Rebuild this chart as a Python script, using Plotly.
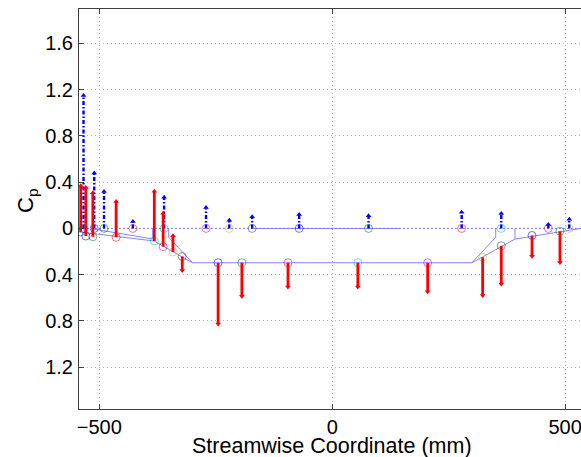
import plotly.graph_objects as go

# ---------------- data ----------------
# upper-surface taps (on y = 0 line): streamwise position (mm) and Cp arrow length
upper_x = [-534, -511, -490, -428, -361, -271, -221, -172, -71, 78, 278, 363, 464, 509]
upper_cp = [1.15, 0.48, 0.32, 0.06, 0.27, 0.18, 0.07, 0.10, 0.12, 0.11, 0.14, 0.13, 0.035, 0.08]

# lower-surface taps: position (mm), surface ordinate, Cp arrow length
lower_x = [-540, -529, -514, -464, -382, -363, -342, -322, -245, -194, -95, 55, 205, 323, 363, 429, 489]
lower_y = [-0.03, -0.066, -0.072, -0.077, -0.109, -0.158, -0.204, -0.243, -0.297, -0.297,
           -0.297, -0.297, -0.297, -0.25, -0.15, -0.061, -0.024]
lower_cp = [0.40, 0.42, 0.38, 0.31, 0.43, 0.29, 0.14, -0.12, -0.53, -0.29, -0.21, -0.21,
            -0.25, -0.33, -0.33, -0.18, -0.27]

# body outlines
upper_line_x = [-543.7, 534.2]
upper_line_y = [0.0, 0.0]
profile1_x = [-543.7, -382, -300, 300, 392.5, 534.2]
profile1_y = [-0.03, -0.109, -0.297, -0.297, -0.092, 0.0]
profile2_x = [-513, -385.4, -385.4, None, -351.1, -351.1, -300, None, 300, 351.1, 351.1, None, 392.5, 392.5]
profile2_y = [-0.005, -0.091, 0.0, None, 0.0, -0.077, -0.297, None, -0.297, -0.077, 0.0, None, -0.092, 0.0]

x_ticks = [-500, 0, 500]
y_ticks = [-1.2, -0.8, -0.4, 0, 0.4, 0.8, 1.2, 1.6]
y_ticktext = ["1.2", "0.8", "0.4", "0", "0.4", "0.8", "1.2", "1.6"]

x_title = "Streamwise Coordinate (mm)"
y_title = "C<sub>p</sub>"

# ---------------- styles ----------------
cycle = ["#0000ff", "#008000", "#ff0000", "#00bfbf", "#bf00bf", "#bfbf00", "#404040"]
FONT = "Liberation Sans, Arial, Helvetica, sans-serif"
PROFILE = "rgba(110,110,255,0.85)"

fig = go.Figure()

# outlines
fig.add_trace(go.Scatter(x=upper_line_x, y=upper_line_y, mode="lines",
                         line=dict(color=PROFILE, width=1, dash="2px,2px"), hoverinfo="skip"))
fig.add_trace(go.Scatter(x=[-170, 145], y=[0, 0], mode="lines",
                         line=dict(color=PROFILE, width=1), hoverinfo="skip"))
fig.add_trace(go.Scatter(x=profile1_x, y=profile1_y, mode="lines",
                         line=dict(color=PROFILE, width=1), hoverinfo="skip"))
fig.add_trace(go.Scatter(x=profile2_x, y=profile2_y, mode="lines",
                         line=dict(color=PROFILE, width=1), hoverinfo="skip"))

# tap circles
fig.add_trace(go.Scatter(x=upper_x, y=[0] * len(upper_x), mode="markers",
                         marker=dict(symbol="circle-open", size=8, opacity=0.55,
                                     color=[cycle[(i + 6) % 7] for i in range(len(upper_x))],
                                     line=dict(width=1)), hoverinfo="skip"))
fig.add_trace(go.Scatter(x=lower_x, y=lower_y, mode="markers",
                         marker=dict(symbol="circle-open", size=8, opacity=0.55,
                                     color=[cycle[(i + 6) % 7] for i in range(len(lower_x))],
                                     line=dict(width=1)), hoverinfo="skip"))

# blue arrows (upper surface)
bx, by = [], []
for x, c in zip(upper_x, upper_cp):
    bx += [x, x, None]
    by += [0, c, None]
fig.add_trace(go.Scatter(x=bx, y=by, mode="lines",
                         line=dict(color="#0000ff", width=2.4, dash="4px,2px,1.5px,2px"),
                         hoverinfo="skip"))
fig.add_trace(go.Scatter(x=upper_x, y=upper_cp, mode="markers",
                         marker=dict(symbol="triangle-up", size=5, color="#0000ff"),
                         hoverinfo="skip"))

# red arrows (lower surface)
rx, ry, tips, syms = [], [], [], []
for x, y0, c in zip(lower_x, lower_y, lower_cp):
    rx += [x, x, None]
    ry += [y0, y0 + c, None]
    tips.append(y0 + c)
    syms.append("triangle-up" if c > 0 else "triangle-down")
fig.add_trace(go.Scatter(x=rx, y=ry, mode="lines",
                         line=dict(color="#ff0000", width=2.8), hoverinfo="skip"))
fig.add_trace(go.Scatter(x=lower_x, y=tips, mode="markers",
                         marker=dict(symbol=syms, size=5, color="#ff0000"),
                         hoverinfo="skip"))

axis_common = dict(showline=True, linecolor="#404040", linewidth=1,
                   ticks="inside", ticklen=5, tickcolor="#404040",
                   showgrid=True, gridcolor="#b4b4b4", griddash="1px,3px", gridwidth=1,
                   zeroline=False, automargin=False, ticklabeloverflow="allow",
                   tickfont=dict(family=FONT, size=20, color="#000000"))

fig.update_layout(
    width=581, height=457,
    margin=dict(l=79, r=0, t=9, b=48),
    plot_bgcolor="white", paper_bgcolor="white",
    showlegend=False,
    font=dict(family=FONT, size=20, color="#000000"),
    xaxis=dict(range=[-543.7, 534.2], tickvals=x_ticks, mirror="ticks", **axis_common),
    yaxis=dict(range=[-1.562, 1.898], tickvals=y_ticks, ticktext=y_ticktext,
               ticklabelstandoff=1, **axis_common),
    annotations=[
        dict(text=x_title, xref="paper", yref="paper", x=(332 - 79) / 502, y=0,
             xanchor="center", yanchor="middle", yshift=-37, showarrow=False,
             font=dict(family=FONT, size=21.5, color="#000000")),
        dict(text=y_title, xref="paper", yref="paper", x=0, y=(409 - 201) / 400,
             xanchor="center", yanchor="middle", xshift=-52, textangle=-90, showarrow=False,
             font=dict(family=FONT, size=22, color="#000000")),
    ],
)

fig.write_html("out.html", config={"displayModeBar": False},
               post_script="document.body.style.margin='0';document.body.style.overflow='hidden';")
